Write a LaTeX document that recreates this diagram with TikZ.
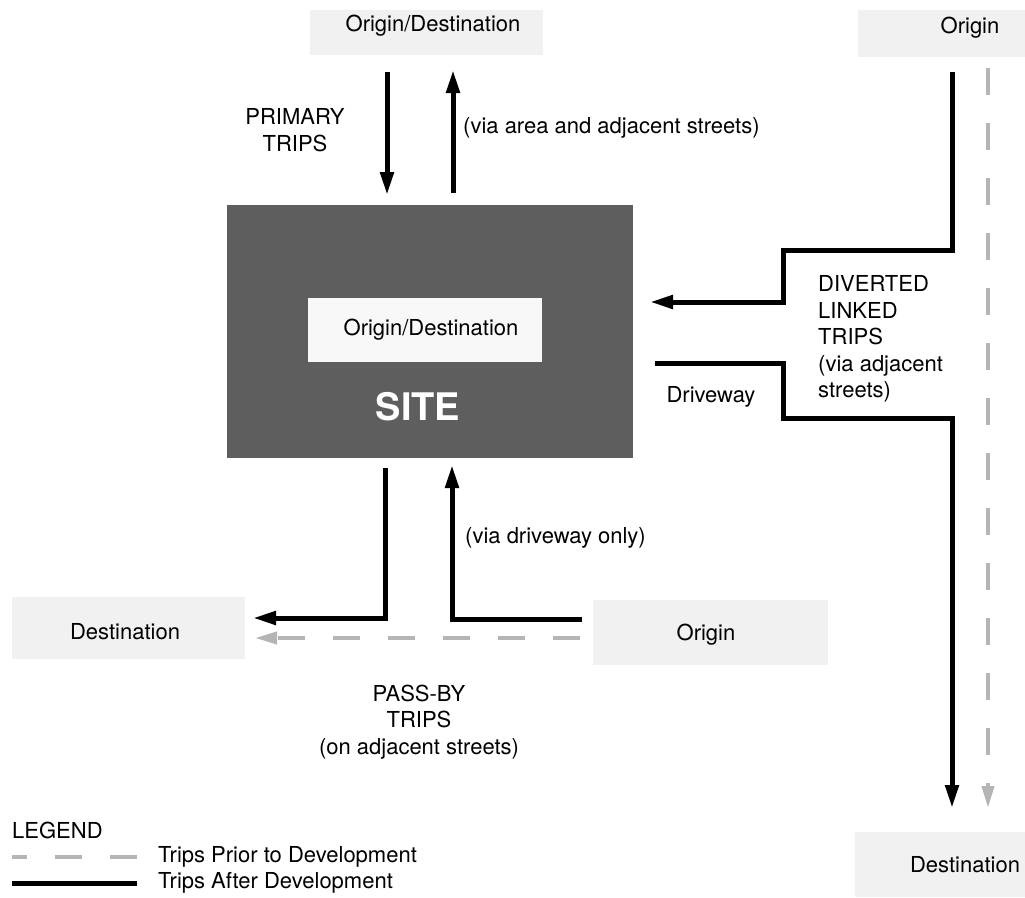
\documentclass[tikz,border=0pt]{standalone}
\usepackage{fontspec}
\setmainfont{TeX Gyre Heros}
\usetikzlibrary{arrows.meta}
\definecolor{boxgrey}{HTML}{F1F1F1}
\definecolor{sitegrey}{HTML}{5E5E5E}
\definecolor{holewhite}{HTML}{F8F8F8}
\definecolor{dashgrey}{HTML}{B5B5B5}
\begin{document}
\begin{tikzpicture}[x=1pt, y=-1pt,
	txt/.style={inner sep=0pt, font=\fontsize{22}{26.5}\selectfont},
	placebox/.style={fill=boxgrey, inner sep=0pt, anchor=north west},
	after/.style={line width=5pt, -{Triangle[length=23pt,width=13pt]}},
	prior/.style={line width=4pt, dashgrey, dash pattern=on 27pt off 28pt},
	greytip/.style={-{Triangle[length=22pt,width=12pt]}}]
	\useasboundingbox (0,0) rectangle (1025,897);
	% places
	\node[placebox, minimum width=233pt, minimum height=45pt] (topbox) at (310,10) {};
	\node[placebox, minimum width=167pt, minimum height=47pt] (origbox) at (858,10) {};
	\node[placebox, minimum width=233pt, minimum height=62pt] (destbox) at (12,597) {};
	\node[placebox, minimum width=235pt, minimum height=65pt] (passbox) at (593,600) {};
	\node[placebox, minimum width=170pt, minimum height=65pt] (enddest) at (855,832) {};
	\node[fill=sitegrey, inner sep=0pt, anchor=north west, minimum width=406pt, minimum height=253pt] (site) at (227,205) {};
	\node[fill=holewhite, inner sep=0pt, anchor=north west, minimum width=234pt, minimum height=64pt] (hole) at (308,298) {};
	% texts
	\node[txt] (toptext) at (433,26) {Origin/Destination};
	\node[txt] (origtext) at (970,28) {Origin};
	\node[txt] (holetext) at (431,330) {Origin/Destination};
	\node[inner sep=0pt, text=white, font=\fontsize{38}{40}\selectfont\bfseries] (sitetext) at (418,407) {SITE};
	\node[txt] (desttext) at (125,632) {Destination};
	\node[txt] (passtext) at (706,635) {Origin};
	\node[txt] (endtext) at (965,865) {Destination};
	\node[txt, align=center] (primary) at (295,130) {PRIMARY\\TRIPS};
	\node[txt, anchor=west] (viaarea) at (463,128) {(via area and adjacent streets)};
	\node[txt, anchor=west, align=left] (diverted) at (818,339) {DIVERTED\\LINKED\\TRIPS\\(via adjacent\\streets)};
	\node[txt] (driveway) at (711,397) {Driveway};
	\node[txt, anchor=west] (viadrive) at (465,538) {(via driveway only)};
	\node[txt, align=center] (passby) at (419,722) {PASS-BY\\TRIPS\\(on adjacent streets)};
	\node[txt, anchor=west] (legend) at (12,830) {LEGEND};
	\node[txt, anchor=west] (priortext) at (158,857) {Trips Prior to Development};
	\node[txt, anchor=west] (aftertext) at (158,883) {Trips After Development};
	% primary trips
	\coordinate (primin) at (387,72);
	\coordinate (primout) at (453,70);
	\draw[after, shorten >=10pt] (primin) -- (primin |- site.north);
	\draw[after, shorten <=12pt] (primout |- site.north) -- (primout);
	% diverted linked trips
	\coordinate (divtop) at (952,72);
	\coordinate (divbend) at (783,250);
	\coordinate (divend) at (650,302);
	\draw[after] (divtop) |- (divbend) |- (divend);
	\coordinate (drvstart) at (655,363);
	\coordinate (drvbend) at (783,418);
	\coordinate (drvend) at (952,808);
	\draw[after] (drvstart) -| (drvbend) -| (drvend);
	% pass-by trips
	\coordinate (pbout) at (385,468);
	\coordinate (pbleft) at (253,618);
	\coordinate (pbright) at (582,619);
	\coordinate (pbin) at (452,465);
	\draw[after] (pbout) |- (pbleft);
	\draw[after] (pbright) -| (pbin);
	% trips prior to development
	\coordinate (thrutop) at (988,68);
	\coordinate (thruend) at (988,808);
	\coordinate (passright) at (580,638);
	\coordinate (passleft) at (255,638);
	\draw[prior, greytip] (thrutop) -- (thruend);
	\draw[prior, greytip] (passright) -- (passleft);
	% legend
	\draw[prior] ([xshift=-21pt]priortext.west) -- ++(-125,0);
	\draw[line width=5pt] ([xshift=-21pt]aftertext.west) -- ++(-125,0);
\end{tikzpicture}
\end{document}
